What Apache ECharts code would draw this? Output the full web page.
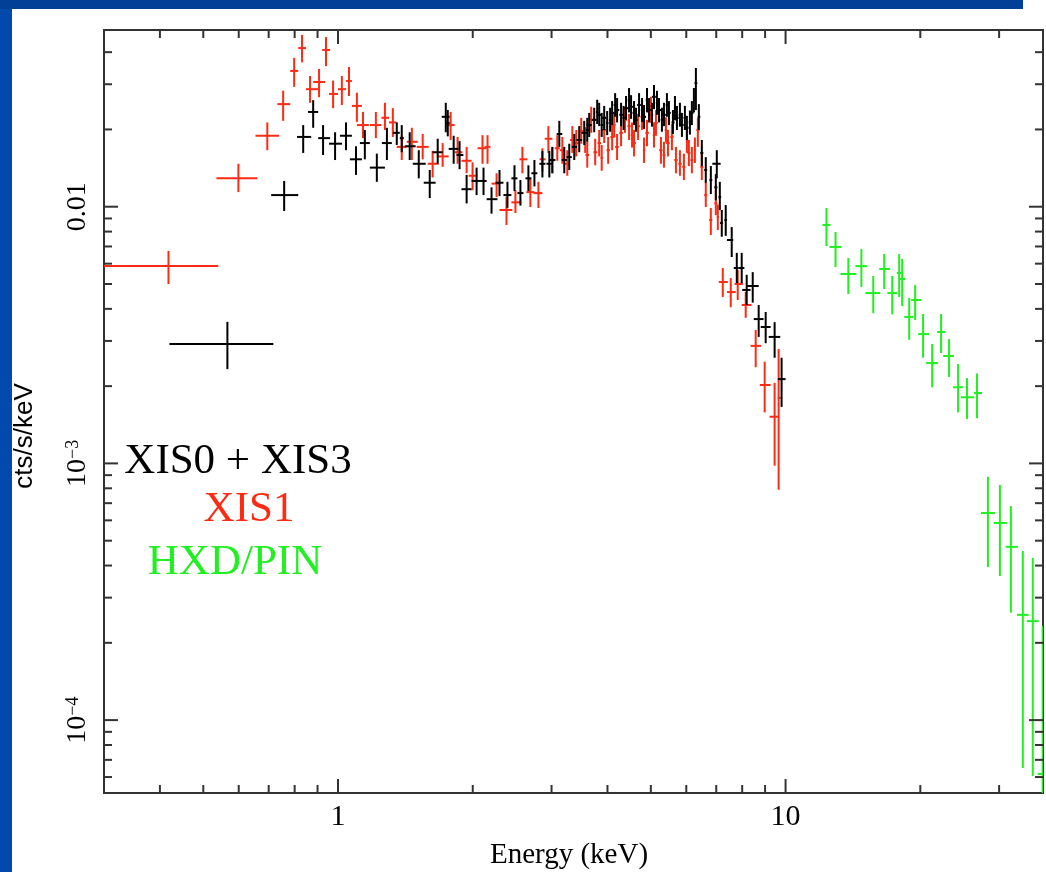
<!DOCTYPE html>
<html>
<head>
<meta charset="utf-8">
<script src="https://cdn.jsdelivr.net/npm/echarts@6/dist/echarts.min.js"></script>
<style>
  html, body { margin: 0; padding: 0; background: #ffffff; }
  #chart { width: 1046px; height: 872px; }
</style>
</head>
<body>
<div id="chart"></div>
<script>
// ---------------- data ----------------
// each point: [E centre, E low, E high, flux, flux low, flux high]  (keV, cts/s/keV)
const seriesNames = ['XIS0 + XIS3', 'XIS1', 'HXD/PIN'];

const xis03 = [
  [0.566,0.420,0.717,0.00292,0.00233,0.00356],
  [0.758,0.709,0.815,0.0111,0.00962,0.0126],
  [0.836,0.810,0.871,0.0187,0.0162,0.0208],
  [0.880,0.857,0.903,0.0234,0.0203,0.0260],
  [0.926,0.903,0.960,0.0185,0.0159,0.0208],
  [0.985,0.955,1.021,0.0176,0.0152,0.0195],
  [1.042,1.010,1.074,0.0189,0.0166,0.0213],
  [1.097,1.063,1.131,0.0153,0.0133,0.0172],
  [1.148,1.119,1.178,0.0177,0.0153,0.0199],
  [1.221,1.178,1.273,0.0142,0.0125,0.0161],
  [1.286,1.253,1.319,0.0177,0.0152,0.0203],
  [1.353,1.326,1.374,0.0194,0.0174,0.0213],
  [1.388,1.374,1.403,0.0185,0.0163,0.0208],
  [1.446,1.410,1.491,0.0172,0.0152,0.0195],
  [1.515,1.469,1.570,0.0147,0.0129,0.0166],
  [1.603,1.554,1.652,0.0124,0.0108,0.0139],
  [1.670,1.627,1.713,0.0163,0.0147,0.0184],
  [1.741,1.705,1.776,0.0224,0.0195,0.0254],
  [1.759,1.741,1.776,0.0212,0.0188,0.0238],
  [1.813,1.767,1.859,0.0168,0.0147,0.0189],
  [1.869,1.840,1.906,0.0159,0.0140,0.0180],
  [1.938,1.887,1.988,0.0117,0.0103,0.0133],
  [2.040,1.988,2.103,0.0126,0.0111,0.0142],
  [2.114,2.082,2.148,0.0126,0.0111,0.0142],
  [2.203,2.148,2.271,0.0107,0.0094,0.0119],
  [2.295,2.249,2.342,0.0124,0.0110,0.0139],
  [2.391,2.342,2.440,0.0111,0.0099,0.0125],
  [2.479,2.440,2.517,0.0129,0.0115,0.0145],
  [2.556,2.517,2.596,0.0113,0.0101,0.0127],
  [2.663,2.623,2.704,0.0129,0.0115,0.0145],
  [2.747,2.704,2.789,0.0135,0.0120,0.0152],
  [2.862,2.818,2.907,0.0147,0.0130,0.0165],
  [2.966,2.922,3.013,0.0147,0.0130,0.0165],
  [3.012,2.970,3.060,0.0152,0.0135,0.0171],
  [3.122,3.080,3.170,0.0192,0.0171,0.0216],
  [3.203,3.160,3.250,0.0152,0.0135,0.0171],
  [3.286,3.240,3.330,0.0156,0.0139,0.0176],
  [3.372,3.330,3.420,0.0171,0.0152,0.0192],
  [3.459,3.410,3.510,0.0182,0.0163,0.0206],
  [3.549,3.500,3.600,0.0194,0.0174,0.0216],
  [3.605,3.580,3.630,0.0199,0.0179,0.0222],
  [3.641,3.590,3.690,0.0208,0.0187,0.0232],
  [3.736,3.690,3.780,0.0218,0.0195,0.0243],
  [3.794,3.770,3.820,0.0234,0.0210,0.0261],
  [3.833,3.790,3.880,0.0228,0.0206,0.0254],
  [3.883,3.860,3.910,0.0208,0.0187,0.0232],
  [3.933,3.890,3.980,0.0222,0.0199,0.0247],
  [3.994,3.970,4.020,0.0212,0.0190,0.0236],
  [4.055,4.030,4.080,0.0218,0.0196,0.0243],
  [4.097,4.050,4.150,0.0232,0.0208,0.0258],
  [4.161,4.130,4.190,0.0249,0.0224,0.0277],
  [4.203,4.160,4.250,0.0238,0.0213,0.0265],
  [4.290,4.250,4.340,0.0228,0.0206,0.0254],
  [4.345,4.320,4.370,0.0222,0.0199,0.0247],
  [4.401,4.360,4.450,0.0242,0.0218,0.0270],
  [4.470,4.440,4.500,0.0260,0.0233,0.0290],
  [4.516,4.470,4.560,0.0245,0.0220,0.0272],
  [4.586,4.550,4.630,0.0232,0.0208,0.0258],
  [4.634,4.600,4.670,0.0218,0.0196,0.0243],
  [4.706,4.660,4.750,0.0249,0.0224,0.0277],
  [4.779,4.750,4.810,0.0238,0.0214,0.0265],
  [4.828,4.780,4.880,0.0224,0.0201,0.0249],
  [4.902,4.870,4.930,0.0260,0.0233,0.0290],
  [4.954,4.900,5.000,0.0238,0.0213,0.0265],
  [5.029,5.000,5.060,0.0228,0.0205,0.0254],
  [5.082,5.030,5.130,0.0268,0.0240,0.0298],
  [5.160,5.130,5.190,0.0254,0.0228,0.0283],
  [5.214,5.160,5.270,0.0238,0.0213,0.0265],
  [5.293,5.260,5.330,0.0218,0.0196,0.0243],
  [5.349,5.290,5.400,0.0228,0.0206,0.0254],
  [5.431,5.400,5.460,0.0249,0.0224,0.0277],
  [5.488,5.430,5.540,0.0232,0.0208,0.0258],
  [5.602,5.560,5.650,0.0213,0.0192,0.0238],
  [5.660,5.630,5.690,0.0242,0.0217,0.0270],
  [5.718,5.670,5.770,0.0222,0.0199,0.0247],
  [5.807,5.770,5.840,0.0228,0.0205,0.0254],
  [5.867,5.820,5.920,0.0208,0.0187,0.0232],
  [5.957,5.920,5.990,0.0222,0.0199,0.0247],
  [6.019,5.970,6.070,0.0203,0.0182,0.0226],
  [6.113,6.080,6.150,0.0213,0.0191,0.0237],
  [6.175,6.120,6.230,0.0232,0.0208,0.0258],
  [6.240,6.210,6.270,0.0260,0.0233,0.0290],
  [6.304,6.260,6.350,0.0303,0.0238,0.0347],
  [6.401,6.360,6.450,0.0224,0.0199,0.0251],
  [6.499,6.450,6.550,0.0162,0.0144,0.0182],
  [6.633,6.580,6.680,0.0139,0.0124,0.0156],
  [6.808,6.760,6.860,0.0127,0.0112,0.0144],
  [6.985,6.930,7.040,0.0119,0.0106,0.0134],
  [7.020,6.860,7.160,0.0147,0.0129,0.0166],
  [7.130,7.080,7.180,0.0109,0.0097,0.0125],
  [7.202,7.140,7.250,0.00864,0.00764,0.00971],
  [7.350,7.300,7.400,0.00888,0.0077,0.01015],
  [7.580,7.396,7.640,0.00742,0.00637,0.00833],
  [7.780,7.660,7.860,0.00577,0.00504,0.00661],
  [7.980,7.860,8.090,0.00577,0.00504,0.00661],
  [8.187,8.000,8.350,0.00474,0.00414,0.00543],
  [8.445,8.190,8.710,0.00491,0.00423,0.00556],
  [8.708,8.490,8.930,0.00365,0.00311,0.00414],
  [9.027,8.800,9.260,0.00340,0.00294,0.00389],
  [9.452,9.170,9.730,0.00311,0.00258,0.00355],
  [9.797,9.610,10.00,0.00213,0.00166,0.00258]
];

const xis1 = [
  [0.418,0.290,0.540,0.00587,0.00500,0.00672],
  [0.599,0.535,0.660,0.0129,0.0114,0.0147],
  [0.695,0.654,0.739,0.0189,0.0166,0.0213],
  [0.754,0.732,0.782,0.0251,0.0216,0.0283],
  [0.798,0.782,0.815,0.0338,0.0293,0.0380],
  [0.831,0.815,0.848,0.0415,0.0365,0.0467],
  [0.866,0.848,0.903,0.0287,0.0254,0.0323],
  [0.907,0.880,0.936,0.0306,0.0267,0.0344],
  [0.940,0.922,0.960,0.0408,0.0353,0.0458],
  [0.975,0.955,1.000,0.0275,0.0242,0.0310],
  [1.020,1.000,1.042,0.0287,0.0249,0.0323],
  [1.058,1.042,1.074,0.0309,0.0270,0.0350],
  [1.102,1.074,1.131,0.0247,0.0214,0.0278],
  [1.137,1.102,1.172,0.0208,0.0185,0.0234],
  [1.215,1.178,1.250,0.0208,0.0185,0.0234],
  [1.273,1.250,1.300,0.0222,0.0199,0.0254],
  [1.326,1.300,1.350,0.0213,0.0187,0.0242],
  [1.388,1.353,1.424,0.0171,0.0152,0.0190],
  [1.462,1.424,1.507,0.0179,0.0152,0.0203],
  [1.546,1.499,1.594,0.0171,0.0153,0.0192],
  [1.627,1.586,1.678,0.0147,0.0130,0.0165],
  [1.713,1.662,1.767,0.0157,0.0143,0.0177],
  [1.785,1.749,1.822,0.0208,0.0182,0.0234],
  [1.850,1.822,1.897,0.0163,0.0147,0.0187],
  [1.938,1.887,1.988,0.0151,0.0135,0.0171],
  [1.998,1.958,2.050,0.0132,0.0116,0.0149],
  [2.103,2.050,2.148,0.0169,0.0147,0.0190],
  [2.158,2.126,2.190,0.0171,0.0147,0.0190],
  [2.261,2.203,2.306,0.0123,0.0109,0.0135],
  [2.379,2.295,2.452,0.00971,0.00849,0.0109],
  [2.491,2.440,2.569,0.0104,0.00945,0.0116],
  [2.582,2.543,2.650,0.0153,0.0135,0.0171],
  [2.690,2.636,2.747,0.0114,0.00997,0.0129],
  [2.804,2.733,2.862,0.0113,0.00988,0.0125],
  [2.862,2.820,2.910,0.0153,0.0137,0.0169],
  [2.951,2.896,3.013,0.0184,0.0162,0.0206],
  [3.012,2.980,3.050,0.0152,0.0135,0.0171],
  [3.090,3.050,3.130,0.0169,0.0151,0.0190],
  [3.171,3.130,3.210,0.0166,0.0147,0.0187],
  [3.253,3.210,3.290,0.0147,0.0132,0.0166],
  [3.338,3.300,3.380,0.0182,0.0162,0.0206],
  [3.407,3.370,3.440,0.0177,0.0157,0.0199],
  [3.495,3.460,3.530,0.0197,0.0176,0.0222],
  [3.567,3.540,3.590,0.0182,0.0162,0.0204],
  [3.605,3.570,3.640,0.0159,0.0142,0.0179],
  [3.679,3.640,3.720,0.0218,0.0194,0.0245],
  [3.755,3.720,3.790,0.0163,0.0145,0.0184],
  [3.833,3.800,3.870,0.0177,0.0157,0.0199],
  [3.883,3.860,3.910,0.0155,0.0138,0.0174],
  [3.933,3.890,3.970,0.0199,0.0177,0.0224],
  [4.014,3.980,4.050,0.0166,0.0147,0.0187],
  [4.097,4.060,4.140,0.0187,0.0166,0.0210],
  [4.140,4.110,4.170,0.0208,0.0186,0.0233],
  [4.203,4.160,4.240,0.0171,0.0152,0.0192],
  [4.290,4.250,4.330,0.0194,0.0172,0.0218],
  [4.378,4.340,4.420,0.0218,0.0194,0.0245],
  [4.470,4.430,4.510,0.0206,0.0182,0.0230],
  [4.539,4.510,4.570,0.0190,0.0170,0.0213],
  [4.586,4.550,4.630,0.0177,0.0157,0.0199],
  [4.682,4.640,4.730,0.0206,0.0182,0.0230],
  [4.779,4.740,4.820,0.0224,0.0199,0.0251],
  [4.828,4.800,4.860,0.0166,0.0148,0.0186],
  [4.902,4.860,4.950,0.0194,0.0172,0.0218],
  [5.003,4.960,5.050,0.0238,0.0212,0.0268],
  [5.082,5.050,5.110,0.0190,0.0170,0.0213],
  [5.133,5.090,5.180,0.0212,0.0189,0.0238],
  [5.267,5.220,5.310,0.0166,0.0147,0.0187],
  [5.349,5.310,5.390,0.0159,0.0142,0.0179],
  [5.404,5.370,5.440,0.0199,0.0178,0.0223],
  [5.460,5.410,5.510,0.0177,0.0157,0.0199],
  [5.573,5.530,5.620,0.0187,0.0166,0.0210],
  [5.689,5.640,5.740,0.0152,0.0135,0.0171],
  [5.807,5.760,5.860,0.0147,0.0132,0.0166],
  [5.927,5.880,5.970,0.0143,0.0127,0.0161],
  [6.019,5.990,6.050,0.0182,0.0162,0.0204],
  [6.081,6.030,6.130,0.0162,0.0144,0.0182],
  [6.175,6.130,6.220,0.0152,0.0135,0.0171],
  [6.272,6.240,6.300,0.0166,0.0148,0.0186],
  [6.368,6.320,6.420,0.0199,0.0171,0.0222],
  [6.499,6.450,6.550,0.0143,0.0127,0.0161],
  [6.633,6.580,6.680,0.0111,0.00997,0.0125],
  [6.808,6.750,6.860,0.00888,0.00776,0.00988],
  [6.985,6.930,7.040,0.0103,0.00928,0.0116],
  [7.056,7.020,7.100,0.00912,0.00811,0.0102],
  [7.239,7.093,7.430,0.00509,0.00445,0.00577],
  [7.543,7.400,7.740,0.00465,0.00406,0.00527],
  [7.818,7.690,8.030,0.00500,0.00433,0.00567],
  [8.145,7.980,8.390,0.00414,0.00369,0.00465],
  [8.575,8.350,8.820,0.00287,0.00237,0.00331],
  [8.981,8.760,9.260,0.00202,0.00158,0.00249],
  [9.452,9.210,9.650,0.00152,0.00098,0.00206],
  [9.649,9.600,9.750,0.00180,0.00079,0.00279]
];

const pin = [
  [12.34,12.09,12.60,0.00849,0.00703,0.00988],
  [12.93,12.53,13.33,0.00697,0.00582,0.00797],
  [13.81,13.26,14.39,0.00547,0.00457,0.00631],
  [14.77,14.32,15.23,0.00587,0.00487,0.00684],
  [15.70,15.08,16.28,0.00461,0.00385,0.00537],
  [16.61,16.19,17.13,0.00572,0.00478,0.00654],
  [17.31,16.88,17.76,0.00461,0.00381,0.00537],
  [17.94,17.72,18.22,0.00552,0.00445,0.00654],
  [18.22,17.94,18.50,0.00523,0.00410,0.00626],
  [18.89,18.41,19.28,0.00372,0.00303,0.00441],
  [19.48,19.07,20.09,0.00433,0.00362,0.00495],
  [20.29,19.78,20.93,0.00319,0.00258,0.00382],
  [21.26,20.61,21.92,0.00246,0.00198,0.00292],
  [22.26,21.81,22.72,0.00325,0.00269,0.00382],
  [23.19,22.49,23.79,0.00262,0.00217,0.00305],
  [24.29,23.67,24.92,0.00198,0.00158,0.00244],
  [25.43,24.66,26.36,0.00181,0.00149,0.00215],
  [26.77,26.36,27.47,0.00188,0.00150,0.00224],
  [28.32,27.32,29.36,0.000641,0.000395,0.000886],
  [30.12,29.21,31.22,0.000586,0.000364,0.000824],
  [31.87,31.06,33.04,0.000473,0.000262,0.000682],
  [33.89,32.87,34.94,0.000257,0.0000651,0.000456],
  [35.67,34.59,36.79,0.000243,0.0000606,0.000428],
  [37.54,36.60,38.50,0.0000617,0.00003,0.000233]
];

// axis ticks
const xMajorTicks = [1, 10];
const xMinorTicks = [0.4, 0.5, 0.6, 0.7, 0.8, 0.9, 2, 3, 4, 5, 6, 7, 8, 9, 20, 30];
const yMajorTicks = [0.0001, 0.001, 0.01];
const yMinorTicks = [0.00006, 0.00007, 0.00008, 0.00009,
  0.0002, 0.0003, 0.0004, 0.0005, 0.0006, 0.0007, 0.0008, 0.0009,
  0.002, 0.003, 0.004, 0.005, 0.006, 0.007, 0.008, 0.009,
  0.02, 0.03, 0.04];

const X_MIN = 0.3, X_MAX = 37.6, Y_MIN = 5.2e-5, Y_MAX = 0.0488;
const xTitle = 'Energy (keV)';
const yTitle = 'cts/s/keV';

// ---------------- chart ----------------
const COLORS = ['#000000', '#ff2a12', '#1ff01f'];
const AXIS_COLOR = '#333333';
const SERIF = '"Liberation Serif", "DejaVu Serif", serif';
const SANS = '"Liberation Sans", Arial, sans-serif';

function errRender(color) {
  return function (params, api) {
    const e = api.value(0), el = api.value(1), eh = api.value(2);
    const f = api.value(3), fl = api.value(4), fh = api.value(5);
    const c = api.coord([e, f]);
    const l = api.coord([el, f]);
    const r = api.coord([eh, f]);
    const t = api.coord([e, fh]);
    const b = api.coord([e, fl]);
    return {
      type: 'group',
      children: [
        { type: 'line', shape: { x1: l[0], y1: c[1], x2: r[0], y2: c[1] }, style: { stroke: color, lineWidth: 2 } },
        { type: 'line', shape: { x1: c[0], y1: t[1], x2: c[0], y2: b[1] }, style: { stroke: color, lineWidth: 2 } }
      ]
    };
  };
}

function xTickRender(len) {
  return function (params, api) {
    const v = api.value(0);
    const b = api.coord([v, Y_MIN]);
    const t = api.coord([v, Y_MAX]);
    return {
      type: 'group',
      children: [
        { type: 'line', shape: { x1: b[0], y1: b[1], x2: b[0], y2: b[1] - len }, style: { stroke: AXIS_COLOR, lineWidth: 2 } },
        { type: 'line', shape: { x1: t[0], y1: t[1], x2: t[0], y2: t[1] + len }, style: { stroke: AXIS_COLOR, lineWidth: 2 } }
      ]
    };
  };
}
function yTickRender(len) {
  return function (params, api) {
    const v = api.value(1);
    const l = api.coord([X_MIN, v]);
    const r = api.coord([X_MAX, v]);
    return {
      type: 'group',
      children: [
        { type: 'line', shape: { x1: l[0], y1: l[1], x2: l[0] + len, y2: l[1] }, style: { stroke: AXIS_COLOR, lineWidth: 2 } },
        { type: 'line', shape: { x1: r[0], y1: r[1], x2: r[0] - len, y2: r[1] }, style: { stroke: AXIS_COLOR, lineWidth: 2 } }
      ]
    };
  };
}

function isPow10(v) {
  const lg = Math.log10(v);
  return Math.abs(lg - Math.round(lg)) < 1e-6;
}

function errSeries(name, data, color) {
  return {
    name: name, type: 'custom', data: data, clip: true, silent: true,
    encode: { x: [0, 1, 2], y: [3, 4, 5] },
    renderItem: errRender(color), z: 3
  };
}
function tickSeries(data, render) {
  return {
    type: 'custom', data: data, clip: false, silent: true,
    encode: { x: 0, y: 1 }, renderItem: render, z: 4
  };
}

const chart = echarts.init(document.getElementById('chart'), null, { renderer: 'canvas' });
chart.setOption({
  animation: false,
  backgroundColor: '#ffffff',
  grid: {
    left: 104, top: 30, right: 0, bottom: 79,
    show: true, borderColor: AXIS_COLOR, borderWidth: 2, backgroundColor: '#ffffff'
  },
  xAxis: {
    type: 'log', logBase: 10, min: X_MIN, max: X_MAX,
    axisLine: { show: false }, axisTick: { show: false }, splitLine: { show: false },
    axisLabel: {
      margin: 9, fontFamily: SERIF, fontSize: 30, color: '#000',
      formatter: function (v) { return isPow10(v) ? String(Math.round(v)) : ''; }
    }
  },
  yAxis: {
    type: 'log', logBase: 10, min: Y_MIN, max: Y_MAX,
    axisLine: { show: false }, axisTick: { show: false }, splitLine: { show: false },
    axisLabel: {
      margin: 12, rotate: 90, fontFamily: SERIF, fontSize: 28, color: '#000',
      formatter: function (v) {
        if (!isPow10(v)) return '';
        const p = Math.round(Math.log10(v));
        if (p === -2) return '{b|0.01}';
        return '{b|10}{s|\u2212' + Math.abs(p) + '}';
      },
      rich: {
        b: { fontFamily: SERIF, fontSize: 28, color: '#000', lineHeight: 28 },
        s: { fontFamily: SERIF, fontSize: 18, color: '#000', verticalAlign: 'top', lineHeight: 28 }
      }
    }
  },
  graphic: [
    { type: 'rect', left: 0, top: 0, shape: { width: 12, height: 872 }, style: { fill: '#0349ad' }, silent: true },
    { type: 'rect', left: 0, top: 0, shape: { width: 1023, height: 9 }, style: { fill: '#023f97' }, silent: true },
    { type: 'text', x: 238, y: 462, style: { text: seriesNames[0], fill: COLORS[0], font: '43px ' + SERIF, align: 'center', verticalAlign: 'middle' }, silent: true },
    { type: 'text', x: 249, y: 510, style: { text: seriesNames[1], fill: COLORS[1], font: '43px ' + SERIF, align: 'center', verticalAlign: 'middle' }, silent: true },
    { type: 'text', x: 235, y: 563, style: { text: seriesNames[2], fill: COLORS[2], font: '43px ' + SERIF, align: 'center', verticalAlign: 'middle' }, silent: true },
    { type: 'text', x: 569, y: 855, style: { text: xTitle, fill: '#000', font: '29px ' + SERIF, align: 'center', verticalAlign: 'middle' }, silent: true },
    { type: 'text', x: 25, y: 436, rotation: Math.PI / 2, style: { text: yTitle, fill: '#000', font: '26px ' + SANS, align: 'center', verticalAlign: 'middle' }, silent: true }
  ],
  series: [
    tickSeries(xMajorTicks.map(v => [v, Y_MIN]), xTickRender(14)),
    tickSeries(xMinorTicks.map(v => [v, Y_MIN]), xTickRender(8)),
    tickSeries(yMajorTicks.map(v => [X_MIN, v]), yTickRender(14)),
    tickSeries(yMinorTicks.map(v => [X_MIN, v]), yTickRender(8)),
    errSeries(seriesNames[2], pin, COLORS[2]),
    errSeries(seriesNames[1], xis1, COLORS[1]),
    errSeries(seriesNames[0], xis03, COLORS[0])
  ]
});
</script>
</body>
</html>
